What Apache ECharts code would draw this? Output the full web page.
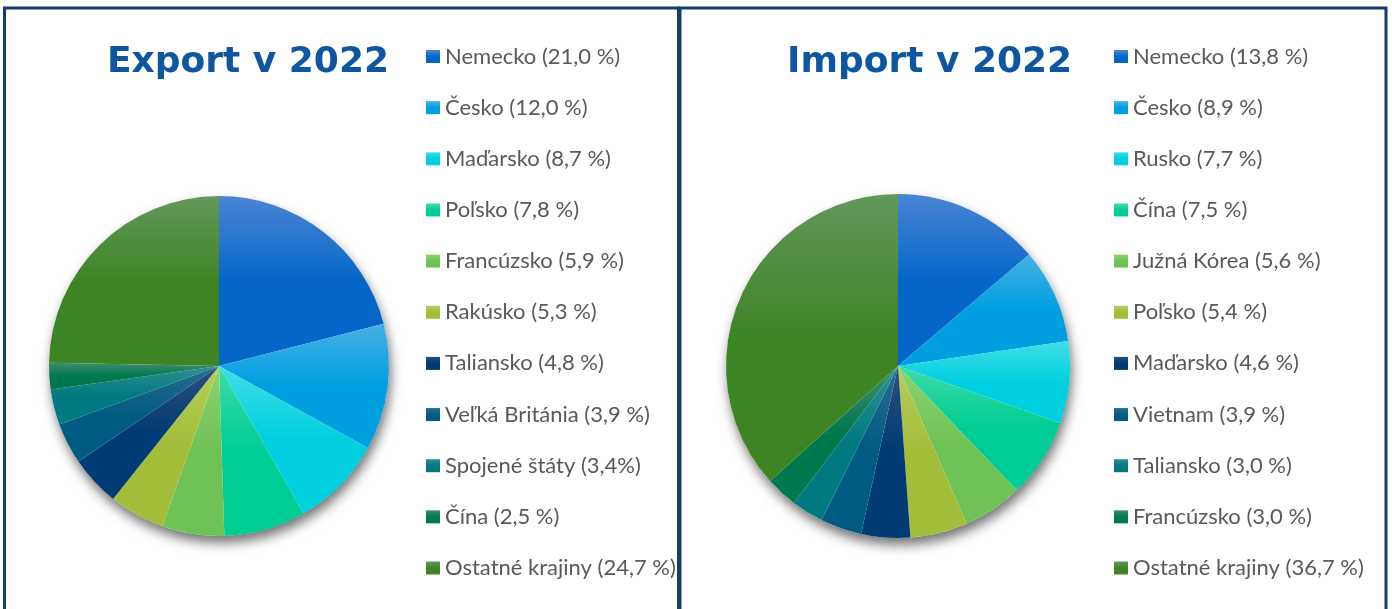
<!DOCTYPE html>
<html>
<head>
<meta charset="utf-8">
<script src="https://cdn.jsdelivr.net/npm/echarts@6/dist/echarts.min.js"></script>
<style>
  html, body { margin: 0; padding: 0; background: #fff; }
  #main { width: 1392px; height: 609px; }
</style>
</head>
<body>
<div id="main"></div>
<script>
// export 2022
var exportLabels = ['Nemecko (21,0 %)', 'Česko (12,0 %)', 'Maďarsko (8,7 %)', 'Poľsko (7,8 %)',
  'Francúzsko (5,9 %)', 'Rakúsko (5,3 %)', 'Taliansko (4,8 %)', 'Veľká Británia (3,9 %)',
  'Spojené štáty (3,4%)', 'Čína (2,5 %)', 'Ostatné krajiny (24,7 %)'];
var exportValues = [21.0, 12.0, 8.7, 7.8, 5.9, 5.3, 4.8, 3.9, 3.4, 2.5, 24.7];

// import 2022
var importLabels = ['Nemecko (13,8 %)', 'Česko (8,9 %)', 'Rusko (7,7 %)', 'Čína (7,5 %)',
  'Južná Kórea (5,6 %)', 'Poľsko (5,4 %)', 'Maďarsko (4,6 %)', 'Vietnam (3,9 %)',
  'Taliansko (3,0 %)', 'Francúzsko (3,0 %)', 'Ostatné krajiny (36,7 %)'];
var importValues = [13.8, 8.9, 7.7, 7.5, 5.6, 5.4, 4.6, 3.9, 3.0, 3.0, 36.7];

var baseColors = ['#0566c9', '#009fe0', '#00d0df', '#00cd95', '#6fc256', '#a2bd3a',
  '#003b73', '#005b82', '#007a80', '#00784d', '#3d8425'];
var lightColors = ['#4a85d3', '#45b0e5', '#40dde6', '#3edca8', '#8cd271', '#b5cd58',
  '#2e4f80', '#2d6c90', '#2e8f92', '#3d8c70', '#62985a'];

function grad(i) {
  return {
    type: 'linear', x: 0, y: 0, x2: 0, y2: 1,
    colorStops: [
      { offset: 0, color: lightColors[i] },
      { offset: 0.5, color: baseColors[i] },
      { offset: 1, color: baseColors[i] }
    ]
  };
}

function pieData(labels, values) {
  return labels.map(function (l, i) {
    return { name: l, value: values[i], itemStyle: { color: grad(i) } };
  });
}

var myChart = echarts.init(document.getElementById('main'));

var legendText = { fontFamily: 'Lato', fontSize: 22, color: '#595959', lineHeight: 22 };
var titleText = { fontFamily: 'DejaVu Sans', fontSize: 36, fontWeight: 'bold', color: '#0e56a0' };

function shadowPie(center, r) {
  return {
    type: 'pie', center: center, radius: r, silent: true, z: 1,
    label: { show: false }, labelLine: { show: false },
    data: [{ value: 1, name: '', itemStyle: {
      color: '#fff', shadowBlur: 12, shadowOffsetX: 2, shadowOffsetY: 7,
      shadowColor: 'rgba(0,0,0,0.55)'
    } }]
  };
}

var option = {
  animation: false,
  title: [
    { text: 'Export v 2022', left: 107, top: 45, padding: 0, textStyle: titleText },
    { text: 'Import v 2022', left: 787, top: 45, padding: 0, textStyle: titleText }
  ],
  legend: [
    {
      data: exportLabels, orient: 'vertical', left: 426, top: 45.5, padding: 0,
      itemWidth: 14, itemHeight: 13, itemGap: 29.15, icon: 'rect',
      selectedMode: false, textStyle: legendText
    },
    {
      data: importLabels, orient: 'vertical', left: 1114, top: 45.5, padding: 0,
      itemWidth: 14, itemHeight: 13, itemGap: 29.15, icon: 'rect',
      selectedMode: false, textStyle: legendText
    }
  ],
  graphic: [
    { type: 'rect', shape: { x: 4.5, y: 8, width: 674, height: 700 },
      style: { fill: 'none', stroke: '#123d6d', lineWidth: 3 } },
    { type: 'rect', shape: { x: 680, y: 8, width: 706, height: 700 },
      style: { fill: 'none', stroke: '#123d6d', lineWidth: 3 } }
  ],
  series: [
    shadowPie([219, 366], 170),
    shadowPie([898, 366], 172),
    {
      name: 'Export', type: 'pie', center: [219, 366], radius: 170, z: 2,
      startAngle: 90, clockwise: true, silent: true,
      label: { show: false }, labelLine: { show: false },
      data: pieData(exportLabels, exportValues)
    },
    {
      name: 'Import', type: 'pie', center: [898, 366], radius: 172, z: 2,
      startAngle: 90, clockwise: true, silent: true,
      label: { show: false }, labelLine: { show: false },
      data: pieData(importLabels, importValues)
    }
  ]
};

myChart.setOption(option);
</script>
</body>
</html>
